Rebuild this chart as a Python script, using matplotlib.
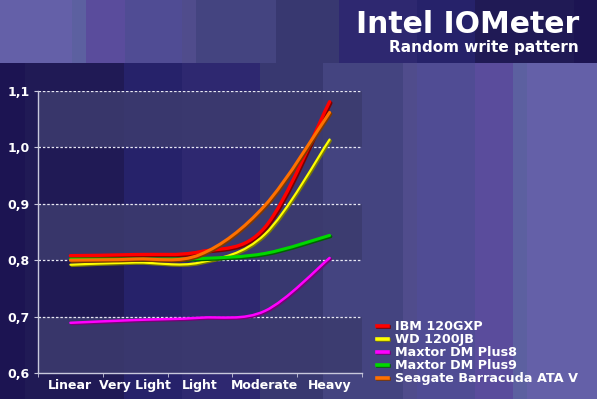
import matplotlib
matplotlib.use("Agg")
import matplotlib.pyplot as plt
import numpy as np
from matplotlib.path import Path
from matplotlib.patches import PathPatch, Rectangle
from matplotlib.lines import Line2D
import matplotlib.patheffects as pe

# ---------------- data ----------------
categories = ["Linear", "Very Light", "Light", "Moderate", "Heavy"]
series_names = ["IBM 120GXP", "WD 1200JB", "Maxtor DM Plus8", "Maxtor DM Plus9",
                "Seagate Barracuda ATA V"]
ibm_120gxp = [0.808, 0.810, 0.815, 0.858, 1.081]
wd_1200jb = [0.792, 0.796, 0.796, 0.846, 1.014]
maxtor_plus8 = [0.689, 0.694, 0.698, 0.710, 0.804]
maxtor_plus9 = [0.802, 0.802, 0.803, 0.812, 0.844]
seagate_ata_v = [0.800, 0.802, 0.810, 0.897, 1.062]
y_ticks = [0.6, 0.7, 0.8, 0.9, 1.0, 1.1]
y_tick_labels = ["0,6", "0,7", "0,8", "0,9", "1,0", "1,1"]

series_values = [ibm_120gxp, wd_1200jb, maxtor_plus8, maxtor_plus9, seagate_ata_v]
colors = ["#ff0000", "#ffff00", "#ff00ff", "#00d800", "#ff7000"]
shadows = ["#7a0000", "#7a7a00", "#780078", "#006400", "#803800"]
widths = [2.4, 1.6, 1.8, 2.2, 2.2]

W, H = 597, 399
fig = plt.figure(figsize=(W / 100, H / 100), dpi=100)

# ---------------- background stripes ----------------
bg = fig.add_axes([0, 0, 1, 1], zorder=-10)
bg.set_xlim(0, W)
bg.set_ylim(H, 0)
bg.axis("off")
top_edges = [0, 72, 86, 125, 182, 196, 276, 339, 417, 475, 574, 597]
top_cols = ["#6460a8", "#5c60a0", "#5a4c9c", "#504c94", "#504c8c", "#444480",
            "#383870", "#2e2870", "#26226a", "#201a55", "#1c1452"]
bot_edges = [0, 25, 124, 182, 260, 323, 403, 417, 475, 513, 527, 597]
bot_cols = ["#1c1452", "#201a55", "#26226a", "#2e2870", "#383870", "#444480",
            "#504c8c", "#504c94", "#5a4c9c", "#5c60a0", "#6460a8"]
split = 63
for i, c in enumerate(top_cols):
    bg.add_patch(Rectangle((top_edges[i], 0), top_edges[i + 1] - top_edges[i], split,
                           facecolor=c, edgecolor="none"))
for i, c in enumerate(bot_cols):
    bg.add_patch(Rectangle((bot_edges[i], split), bot_edges[i + 1] - bot_edges[i], H - split,
                           facecolor=c, edgecolor="none"))

# ---------------- titles ----------------
fig.text(579 / W, 1 - 32.7 / H, "Intel IOMeter", color="white", fontsize=21.5,
         fontweight="bold", ha="right", va="baseline", family="DejaVu Sans")
fig.text(579 / W, 1 - 51.7 / H, "Random write pattern", color="white", fontsize=11,
         fontweight="bold", ha="right", va="baseline", family="DejaVu Sans")

# ---------------- main axes ----------------
ax = fig.add_axes([38 / W, 1 - 373 / H, (362 - 38) / W, (373 - 91) / H])
ax.set_facecolor("none")
ax.set_xlim(-0.5, len(categories) - 0.5)
ax.set_ylim(0.6, 1.1)

for lo in (0.6, 0.8, 1.0):
    ax.axhspan(lo, lo + 0.1, facecolor="#3c3b6e", alpha=0.88, edgecolor="none", zorder=0)

for yv in y_ticks[1:]:
    ax.axhline(yv, color="#e8e8f4", lw=0.9, linestyle=(0, (2, 1.5)), zorder=1)


def smooth_path(xs, ys, k=1.0 / 6.0):
    pts = np.column_stack([xs, ys])
    n = len(pts)
    verts = [pts[0]]
    codes = [Path.MOVETO]
    for i in range(n - 1):
        p0 = pts[max(i - 1, 0)]
        p1 = pts[i]
        p2 = pts[i + 1]
        p3 = pts[min(i + 2, n - 1)]
        c1 = p1 + (p2 - p0) * k
        c2 = p2 - (p3 - p1) * k
        verts += [c1, c2, p2]
        codes += [Path.CURVE4] * 3
    return Path(np.array(verts), codes)


xs = np.arange(len(categories))
for vals, col, sh, lw in zip(series_values, colors, shadows, widths):
    patch = PathPatch(smooth_path(xs, vals), facecolor="none", edgecolor=col, lw=lw,
                      capstyle="round", joinstyle="round", zorder=3)
    patch.set_path_effects([pe.SimpleLineShadow(offset=(0.9, -0.9), shadow_color=sh, alpha=1.0),
                            pe.Normal()])
    ax.add_patch(patch)

# axes styling
for s in ("top", "right"):
    ax.spines[s].set_visible(False)
for s in ("left", "bottom"):
    ax.spines[s].set_color("#c8c8dc")
    ax.spines[s].set_linewidth(1.0)
ax.set_yticks(y_ticks)
ax.set_yticklabels(y_tick_labels)
ax.set_xticks(xs)
ax.set_xticklabels(categories)
ax.set_xticks(np.arange(-0.5, len(categories)), minor=True)
ax.tick_params(axis="x", which="major", length=0, pad=4, labelcolor="white", labelsize=9)
ax.tick_params(axis="x", which="minor", length=3, color="#c8c8dc", direction="out")
ax.tick_params(axis="y", length=3, color="#c8c8dc", pad=3, labelcolor="white", labelsize=9)
for lab in ax.get_xticklabels() + ax.get_yticklabels():
    lab.set_fontweight("bold")

# ---------------- legend ----------------
handles = [Line2D([0], [0], color=c, lw=2.6,
                  path_effects=[pe.SimpleLineShadow(offset=(0.9, -0.9), shadow_color=s, alpha=1.0),
                                pe.Normal()])
           for c, s in zip(colors, shadows)]
leg = fig.legend(handles, series_names, loc="upper left",
                 bbox_to_anchor=(377 / W, 1 - 320 / H), frameon=False,
                 handlelength=0.85, handletextpad=0.55, labelspacing=0.0,
                 borderpad=0, borderaxespad=0,
                 prop={"weight": "bold", "size": 9.2})
for t in leg.get_texts():
    t.set_color("white")

fig.savefig("out.png", dpi=100)
